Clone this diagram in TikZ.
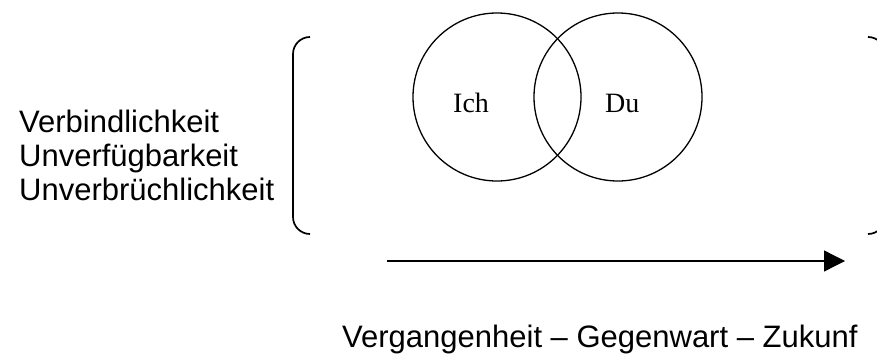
\documentclass[tikz,border=0pt]{standalone}
\usepackage{fontspec}
\setmainfont{Liberation Serif}
\newfontfamily\arialfont{Liberation Sans}
\usetikzlibrary{arrows.meta}
\begin{document}
\begin{tikzpicture}[x=1pt,y=-1pt,
  bracket/.style={line width=1.7pt,rounded corners=17pt},
  ring/.style={draw,circle,line width=1.3pt,minimum size=168pt,inner sep=0pt},
  sidetext/.style={font=\arialfont\fontsize{31}{36}\selectfont,inner sep=0pt,anchor=base west},
  timetext/.style={font=\arialfont\fontsize{31}{36}\selectfont,inner sep=0pt,anchor=base west},
  circletext/.style={font=\fontsize{28}{32}\selectfont,inner sep=0pt,anchor=base west}]
\useasboundingbox (0,0) rectangle (877,356);
% brackets
\draw[bracket] (310,37) -- (293,37) -- (293,234) -- (310,234);
\draw[bracket] (868,37) -- (885,37) -- (885,234) -- (868,234);
% circles
\node[ring] (ich) at (497,97) {};
\node[ring] (du) at (618,97) {};
\node[circletext] (ichl) at (453,112) {Ich};
\node[circletext] (dul) at (605,112) {Du};
% left text
\node[sidetext] (q1) at (19,132) {Verbindlichkeit};
\node[sidetext] (q2) at (19,166) {Unverfügbarkeit};
\node[sidetext] (q3) at (19,200) {Unverbrüchlichkeit};
% arrow
\coordinate (a0) at (387,261);
\coordinate (a1) at (845,261);
\draw[line width=1.3pt,-{Triangle[length=21pt,width=21pt]}] (a0) -- (a1);
\node[timetext] (time) at (342,347) {Vergangenheit – Gegenwart – Zukunf};
\end{tikzpicture}
\end{document}
